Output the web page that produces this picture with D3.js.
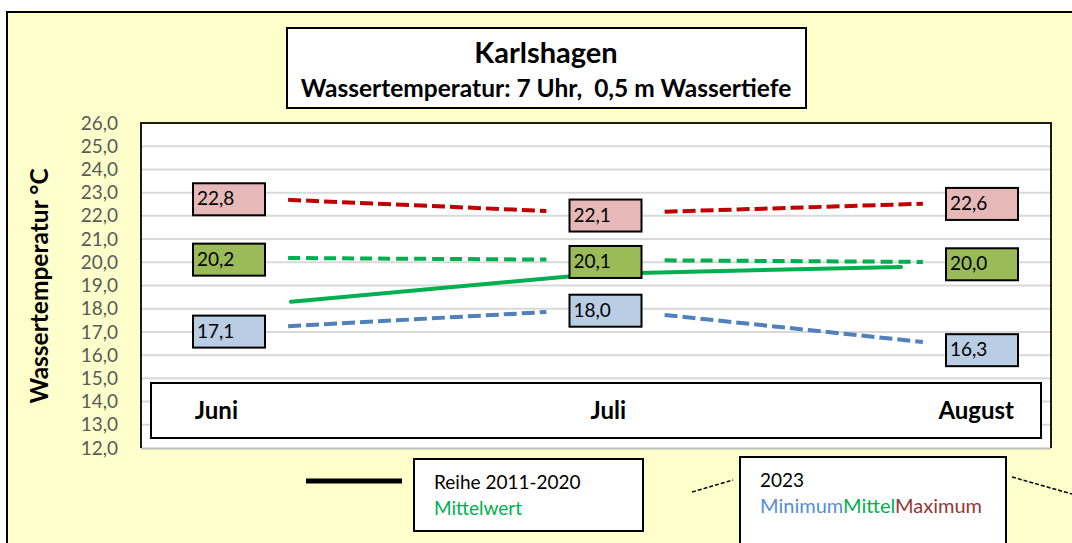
<!DOCTYPE html>
<html><head><meta charset="utf-8">
<script src="https://cdn.jsdelivr.net/npm/d3@7"></script>
<style>body{margin:0;background:#fff} svg{display:block} text{font-family:Lato,"Open Sans",sans-serif;white-space:pre}</style>
</head><body><svg id="c" width="1072" height="543"></svg>
<script>
// ---- data ----
const categories = ["Juni", "Juli", "August"];
const mean2011_2020 = [18.3, 19.5, 19.8];
const min2023 = [17.1, 18.0, 16.3];
const mean2023 = [20.2, 20.1, 20.0];
const max2023 = [22.8, 22.1, 22.6];
const yTicks = d3.range(12, 27, 1);
const titleText = "Karlshagen";
const subtitleText = "Wassertemperatur: 7 Uhr,  0,5 m Wassertiefe";
const yTitleText = "Wassertemperatur °C";
const legend1 = ["Reihe 2011-2020", "Mittelwert"];
const legend2Title = "2023";
const legend2Items = ["Minimum", "Mittel", "Maximum"];

// ---- setup ----
const svg = d3.select("#c");
const de = d3.formatLocale({decimal: ",", thousands: ".", grouping: [3], currency: ["", " €"]});
const fmt = de.format(".1f");

const plot = {x: 141, y: 123, w: 910, h: 325};
const y = d3.scaleLinear().domain([12, 26]).range([plot.y + plot.h, plot.y]);
const x = d3.scalePoint().domain(categories).range([229, 982]);         // 2023 labels / lines
const xMean = d3.scalePoint().domain(categories).range([291, 901]);     // 2011-2020 line
const xCat = d3.scalePoint().domain(categories).range([238, 1014]);     // category labels (end-anchored)

// outer background
svg.append("rect").attr("x", 7).attr("y", 12).attr("width", 1080).attr("height", 560)
  .attr("fill", "#FFFFCC").attr("stroke", "#000").attr("stroke-width", 2);

// plot area
svg.append("rect").attr("x", plot.x).attr("y", plot.y).attr("width", plot.w).attr("height", plot.h)
  .attr("fill", "#fff");
// gridlines
svg.append("g").selectAll("line").data(yTicks.filter(d => d > 12 && d < 26)).join("line")
  .attr("x1", plot.x).attr("x2", plot.x + plot.w)
  .attr("y1", d => y(d)).attr("y2", d => y(d))
  .attr("stroke", "#d9d9d9").attr("stroke-width", 2);
// plot borders
svg.append("line").attr("x1", plot.x).attr("x2", plot.x + plot.w).attr("y1", plot.y + plot.h + 0.5).attr("y2", plot.y + plot.h + 0.5)
  .attr("stroke", "#bfbfbf").attr("stroke-width", 2);
svg.append("path")
  .attr("d", `M${plot.x},${plot.y + plot.h}V${plot.y}H${plot.x + plot.w}V${plot.y + plot.h}`)
  .attr("fill", "none").attr("stroke", "#1a1a1a").attr("stroke-width", 2);

// y axis
const yAxis = svg.append("g").attr("transform", `translate(${plot.x},0)`)
  .call(d3.axisLeft(y).tickValues(yTicks).tickSize(0).tickPadding(23).tickFormat(fmt));
yAxis.select(".domain").remove();
yAxis.selectAll("text").attr("font-family", "Lato").attr("font-size", 19).attr("fill", "#595959");

// y title
svg.append("text").attr("transform", "translate(48,286) rotate(-90)")
  .attr("text-anchor", "middle").attr("font-weight", "bold").attr("font-size", 24.5).attr("fill", "#000")
  .text(yTitleText);

// title box
svg.append("rect").attr("x", 287).attr("y", 28).attr("width", 519).attr("height", 80)
  .attr("fill", "#fff").attr("stroke", "#000").attr("stroke-width", 2);
svg.append("text").attr("x", 546).attr("y", 63).attr("text-anchor", "middle")
  .attr("font-weight", "bold").attr("font-size", 29).text(titleText);
svg.append("text").attr("x", 546).attr("y", 97).attr("text-anchor", "middle")
  .attr("font-weight", "bold").attr("font-size", 24.5).text(subtitleText);

// category box
svg.append("rect").attr("x", 151).attr("y", 383).attr("width", 890).attr("height", 55)
  .attr("fill", "#fff").attr("stroke", "#000").attr("stroke-width", 2);
svg.append("g").selectAll("text").data(categories).join("text")
  .attr("x", d => xCat(d)).attr("y", 419).attr("text-anchor", "end")
  .attr("font-weight", "bold").attr("font-size", 24).text(d => d);

// 2011-2020 mean line
svg.append("path").datum(mean2011_2020)
  .attr("d", d3.line().x((d, i) => xMean(categories[i])).y(d => y(d)))
  .attr("fill", "none").attr("stroke", "#00B050").attr("stroke-width", 4).attr("stroke-linecap", "round");

// 2023 dashed series (segments between months, kept clear of the labels)
const series2023 = [
  {values: max2023, line: "#C00000", fill: "#E6B9B8", dash: "13,5"},
  {values: mean2023, line: "#00B050", fill: "#9BBB59", dash: "12,6"},
  {values: min2023, line: "#4F81BD", fill: "#B9CDE5", dash: "13,5"}
];
const trim = 0.157;
series2023.forEach(s => {
  const pts = s.values.map((v, i) => [x(categories[i]), y(v)]);
  const segs = d3.pairs(pts).map(([a, b]) => {
    const ip = d3.interpolate(a, b);
    return [ip(trim).slice(), ip(1 - trim).slice()];
  });
  svg.append("g").selectAll("path").data(segs).join("path")
    .attr("d", d => d3.line()(d))
    .attr("fill", "none").attr("stroke", s.line).attr("stroke-width", 4)
    .attr("stroke-dasharray", s.dash);
});

// value label boxes
series2023.forEach(s => {
  const g = svg.append("g").selectAll("g").data(s.values).join("g")
    .attr("transform", (v, i) => `translate(${x(categories[i]) - 36},${y(v) - 14})`);
  g.append("rect").attr("width", 72).attr("height", 32)
    .attr("fill", s.fill).attr("stroke", "#000").attr("stroke-width", 2);
  g.append("text").attr("x", 4).attr("y", 22).attr("font-size", 19).attr("fill", "#000")
    .text(v => fmt(v));
});

// legend 1
svg.append("line").attr("x1", 306).attr("x2", 402).attr("y1", 481).attr("y2", 481)
  .attr("stroke", "#000").attr("stroke-width", 5);
svg.append("rect").attr("x", 414).attr("y", 459).attr("width", 229).attr("height", 72)
  .attr("fill", "#fff").attr("stroke", "#000").attr("stroke-width", 2);
svg.append("text").attr("x", 434).attr("y", 489).attr("font-size", 19).attr("fill", "#000").text(legend1[0]);
svg.append("text").attr("x", 434).attr("y", 515).attr("font-size", 19).attr("fill", "#00B050").text(legend1[1]);

// legend 2
svg.append("line").attr("x1", 692).attr("y1", 492).attr("x2", 733).attr("y2", 480)
  .attr("stroke", "#000").attr("stroke-width", 1.5).attr("stroke-dasharray", "4,2");
svg.append("line").attr("x1", 1012).attr("y1", 477).attr("x2", 1072).attr("y2", 494)
  .attr("stroke", "#000").attr("stroke-width", 1.5).attr("stroke-dasharray", "4,2");
svg.append("rect").attr("x", 740).attr("y", 457).attr("width", 266).attr("height", 100)
  .attr("fill", "#fff").attr("stroke", "#000").attr("stroke-width", 2);
svg.append("text").attr("x", 760).attr("y", 487).attr("font-size", 19).attr("fill", "#000").text(legend2Title);
const legColors = ["#558ED5", "#00B050", "#953735"];
const t2 = svg.append("text").attr("x", 760).attr("y", 513).attr("font-size", 20);
t2.selectAll("tspan").data(legend2Items).join("tspan")
  .attr("fill", (d, i) => legColors[i]).text(d => d);
</script>
</body></html>
